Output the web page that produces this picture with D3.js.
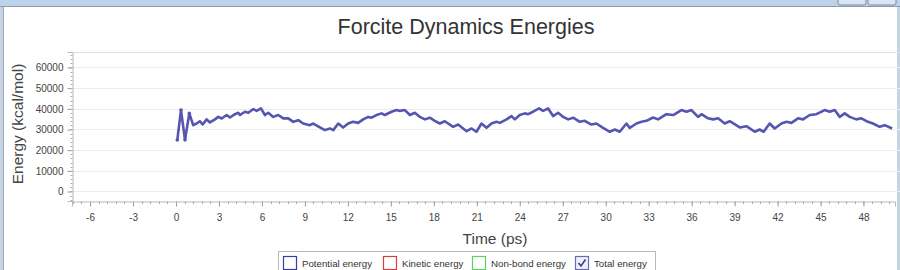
<!DOCTYPE html>
<html>
<head>
<meta charset="utf-8">
<script src="https://cdn.jsdelivr.net/npm/d3@7"></script>
<style>
  body { margin: 0; background: #fff; }
  svg { display: block; font-family: "Liberation Sans", Arial, sans-serif; }
</style>
</head>
<body>
<svg id="chart" width="900" height="270"></svg>
<script>
// Total energy (time in ps, energy in kcal/mol)
const times = [
  0.09, 0.35, 0.63, 0.93, 1.2, 1.44, 1.67, 1.86, 2.14, 2.37, 2.72, 2.95, 3.19, 3.54, 3.77,
  4.12, 4.35, 4.47, 4.81, 5.05, 5.4, 5.63, 5.93, 6.21, 6.44, 6.79, 7.14, 7.49, 7.84, 8.19,
  8.54, 8.88, 9.35, 9.58, 10.05, 10.4, 10.75, 10.98, 11.33, 11.67, 12.02, 12.37, 12.72, 13.07,
  13.42, 13.65, 14.0, 14.35, 14.58, 15.05, 15.4, 15.63, 15.98, 16.33, 16.68, 17.03, 17.38,
  17.72, 18.07, 18.42, 18.77, 19.35, 19.7, 20.29, 20.64, 20.98, 21.33, 21.68, 22.03, 22.38,
  22.61, 23.08, 23.43, 23.66, 24.0, 24.35, 24.59, 24.93, 25.35, 25.63, 25.98, 26.33, 26.68,
  27.03, 27.38, 27.73, 28.19, 28.54, 29.0, 29.35, 29.82, 30.29, 30.64, 30.98, 31.45, 31.68,
  32.15, 32.5, 32.85, 33.31, 33.66, 34.24, 34.71, 35.29, 35.64, 35.99, 36.45, 36.69, 37.15,
  37.5, 37.85, 38.31, 38.66, 39.36, 39.83, 40.41, 40.75, 41.03, 41.45, 41.8, 42.27, 42.62,
  42.97, 43.43, 43.78, 44.25, 44.71, 45.29, 45.64, 45.99, 46.34, 46.69, 47.04, 47.5, 47.85,
  48.31, 48.66, 49.13, 49.48, 50.0
];
const totalEnergy = [
  24900, 39400, 25000, 37800, 32100, 32900, 34000, 32400, 34900, 33400, 34900, 36100, 35300, 37000, 35800,
  37400, 38100, 37000, 38600, 38100, 39900, 39000, 40200, 37000, 38100, 36100, 37000, 35400, 35400, 33700,
  34500, 32900, 32100, 32900, 31000, 29700, 30500, 29700, 32900, 31000, 32900, 33700, 33200, 34900,
  36100, 35700, 37000, 37800, 37000, 38600, 39400, 39000, 39400, 37000, 38100, 36100, 34900,
  35700, 34200, 32900, 34000, 31300, 32400, 29200, 30500, 28900, 32900, 30800, 32900, 33700,
  33200, 34900, 36500, 34900, 37000, 37800, 37400, 38600, 40200, 39000, 40200, 36500, 38100,
  36100, 34900, 35700, 33700, 34200, 32400, 32900, 30800, 28900, 30000, 28900, 32900, 30800,
  32900, 33700, 34200, 35800, 34900, 37400, 37000, 39400, 38600, 39400, 36100, 37400, 35400,
  34900, 35400, 32900, 34000, 31000, 31600, 28900, 30000, 28900, 32900, 30500, 32900, 33700,
  33200, 35400, 34900, 37000, 37400, 39400, 38600, 39400, 36100, 37800, 36100, 34900, 35400,
  33700, 32900, 31300, 32100, 30500
];
const yTicks = [0, 10000, 20000, 30000, 40000, 50000, 60000];
const xTicks = [-6, -3, 0, 3, 6, 9, 12, 15, 18, 21, 24, 27, 30, 33, 36, 39, 42, 45, 48];
const legendNames = ["Potential energy", "Kinetic energy", "Non-bond energy", "Total energy"];
const legendColors = ["#3a3aa8", "#d84040", "#60d060", "#6a6ab8"];
const legendChecked = [false, false, false, true];

const svg = d3.select("#chart");
const W = 900, H = 270;
const margin = {left: 72, top: 52, right: 895, bottom: 201};

// window chrome
svg.append("rect").attr("x", 0).attr("y", 0).attr("width", W).attr("height", 6).attr("fill", "#bcd3ea");
svg.append("line").attr("x1", 0).attr("x2", W).attr("y1", 6.5).attr("y2", 6.5).attr("stroke", "#8a9bb0");
svg.append("rect").attr("x", 0).attr("y", 7).attr("width", 3).attr("height", H).attr("fill", "#c6d3e0");
svg.append("line").attr("x1", 3.5).attr("x2", 3.5).attr("y1", 7).attr("y2", H).attr("stroke", "#9aa8b8");
svg.append("rect").attr("x", 897).attr("y", 7).attr("width", 3).attr("height", H).attr("fill", "#c6d3e0");
[838, 868].forEach(bx => {
  svg.append("rect").attr("x", bx).attr("y", -3).attr("width", 28).attr("height", 8)
    .attr("rx", 2).attr("fill", "#d9e5f2").attr("stroke", "#7d8ea3");
});

const x = d3.scaleLinear().domain([-7.26, 50.2]).range([margin.left, margin.right]);
const y = d3.scaleLinear().domain([-4600, 67500]).range([margin.bottom, margin.top]);

// title
svg.append("text").attr("x", 466).attr("y", 34).attr("text-anchor", "middle")
  .attr("font-size", 21.5).attr("fill", "#333").text("Forcite Dynamics Energies");

// plot frame
svg.append("line").attr("x1", margin.left).attr("x2", W).attr("y1", margin.top + 0.5).attr("y2", margin.top + 0.5)
  .attr("stroke", "#e0e0e0");

// grid
svg.append("g").selectAll("line").data(yTicks).join("line")
  .attr("x1", margin.left).attr("x2", W)
  .attr("y1", d => Math.round(y(d)) + 0.5).attr("y2", d => Math.round(y(d)) + 0.5)
  .attr("stroke", "#ececec");

// y axis
const yMinor = d3.range(-4000, 67001, 2000);
const yAxis = svg.append("g").attr("transform", `translate(${margin.left + 0.5},0)`)
  .call(d3.axisLeft(y).tickValues(yTicks).tickSize(5).tickPadding(4).tickFormat(d => String(d)));
yAxis.select(".domain").attr("stroke", "#bbb");
yAxis.selectAll(".tick line").attr("stroke", "#999");
yAxis.selectAll(".tick text").attr("font-size", 10).attr("fill", "#444");
yAxis.append("g").selectAll("line").data(yMinor).join("line")
  .attr("x1", -2).attr("x2", 0)
  .attr("y1", d => Math.round(y(d)) + 0.5).attr("y2", d => Math.round(y(d)) + 0.5)
  .attr("stroke", "#aaa");

// x axis
const xMinor = d3.range(-7.2, 50.2, 0.6);
const xAxis = svg.append("g").attr("transform", `translate(0,${margin.bottom + 0.5})`)
  .call(d3.axisBottom(x).tickValues(xTicks).tickSize(5).tickPadding(7).tickFormat(d => String(d)));
xAxis.select(".domain").attr("stroke", "#bbb");
xAxis.selectAll(".tick line").attr("stroke", "#999");
xAxis.selectAll(".tick text").attr("font-size", 10).attr("fill", "#444");
xAxis.append("g").selectAll("line").data(xMinor).join("line")
  .attr("x1", d => Math.round(x(d)) + 0.5).attr("x2", d => Math.round(x(d)) + 0.5)
  .attr("y1", 0).attr("y2", 2.5)
  .attr("stroke", "#aaa");

// axis titles
svg.append("text").attr("x", 495).attr("y", 244).attr("text-anchor", "middle")
  .attr("font-size", 15.5).attr("fill", "#444").text("Time (ps)");
svg.append("text").attr("transform", "translate(23,124) rotate(-90)").attr("text-anchor", "middle")
  .attr("font-size", 15.5).attr("fill", "#444").text("Energy (kcal/mol)");

// series
const pts = times.map((t, i) => [t, totalEnergy[i]]);
const line = d3.line().x(d => x(d[0])).y(d => y(d[1]));
svg.append("path").datum(pts).attr("d", line)
  .attr("fill", "none").attr("stroke", "#5656b0").attr("stroke-width", 2.6)
  .attr("stroke-linejoin", "round");
svg.append("g").selectAll("circle").data(pts.slice(0, 4)).join("circle")
  .attr("cx", d => x(d[0])).attr("cy", d => y(d[1])).attr("r", 1.8).attr("fill", "#5656b0");

// legend
const legend = svg.append("g");
legend.append("rect").attr("x", 278.5).attr("y", 251.5).attr("width", 377).attr("height", 22)
  .attr("fill", "#fff").attr("stroke", "#b8b8b8");
const legX = [283, 383, 472, 575];
legendNames.forEach((name, i) => {
  const g = legend.append("g").attr("transform", `translate(${legX[i]},256)`);
  g.append("rect").attr("x", 0.5).attr("y", 0.5).attr("width", 13).attr("height", 13)
    .attr("fill", legendChecked[i] ? "#eef0fa" : "#fff").attr("stroke", legendColors[i]).attr("stroke-width", 1.2);
  if (legendChecked[i]) {
    g.append("path").attr("d", "M3.5,7 L6,10 L10.5,3.5").attr("fill", "none")
      .attr("stroke", "#3a3a90").attr("stroke-width", 1.6);
  }
  g.append("text").attr("x", 19).attr("y", 11).attr("font-size", 9.7).attr("fill", "#333").text(name);
});
</script>
</body>
</html>
